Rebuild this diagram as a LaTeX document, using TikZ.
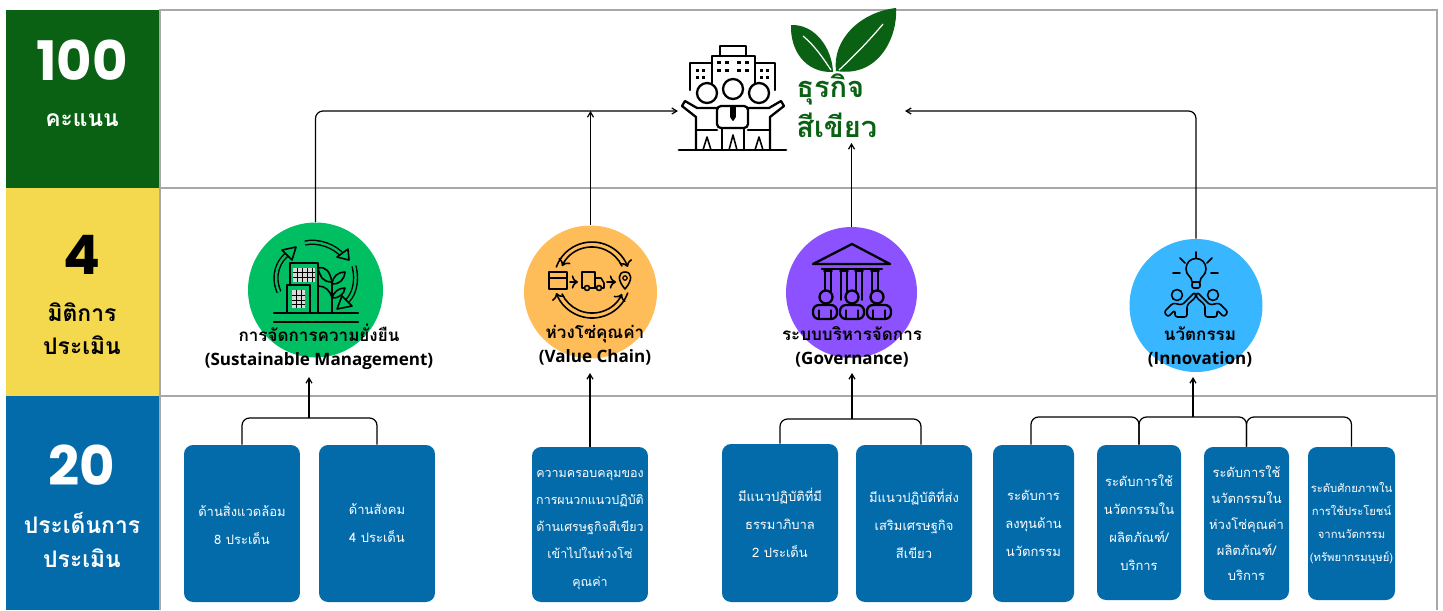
\documentclass[tikz,border=0pt]{standalone}
\usepackage{fontspec}
\usetikzlibrary{calc,arrows.meta}
\setmainfont{Open Sans}
\newfontfamily\thaifont[Script=Thai]{Loma}
\newfontfamily\numfont{Poppins}
\definecolor{darkgreen}{HTML}{0A6113}
\definecolor{tieryellow}{HTML}{F4D94F}
\definecolor{deepblue}{HTML}{046BAA}
\definecolor{gridgray}{HTML}{A8A8A8}
\definecolor{pillargreen}{HTML}{00BF63}
\definecolor{pillarorange}{HTML}{FFBD59}
\definecolor{pillarpurple}{HTML}{8C52FF}
\definecolor{pillarblue}{HTML}{38B6FF}
\tikzset{
	tier/.style={rectangle, inner sep=0pt, minimum width=30.6mm},
	pillar/.style={circle, inner sep=0pt, minimum size=26.6mm},
	pillarlabel/.style={align=center, inner sep=0pt, font=\bfseries\fontsize{9.7}{13.6}\selectfont},
	topic/.style={rectangle, rounded corners=1.8mm, fill=deepblue, text=white, align=center, inner sep=0pt,
		minimum width=23.2mm, minimum height=31.4mm, font=\thaifont\fontsize{7.4}{16}\selectfont},
	bignum/.style={inner sep=0pt, font=\numfont\bfseries\fontsize{31}{31}\selectfont},
	tierlabel/.style={align=center, inner sep=0pt, font=\thaifont\bfseries\fontsize{13}{19}\selectfont},
	link/.style={line width=0.7pt, rounded corners=1.5mm},
	linkto/.style={link, -{Straight Barb[length=1mm, width=1.2mm]}},
	icon/.style={line width=1.3pt, line join=round, line cap=round},
	thinicon/.style={icon, line width=0.9pt}
}

\begin{document}
\begin{tikzpicture}[x=0.02cm, y=-0.02cm]
	\useasboundingbox (0, 0) rectangle (1443, 610);
	
	%%%%% GRID %%%%%
	\draw[gridgray, line width=0.7pt] (159, 10) -- (1437, 10) -- (1437, 610);
	\draw[gridgray, line width=0.7pt] (159, 188) -- (1437, 188);
	\draw[gridgray, line width=0.7pt] (159, 396) -- (1437, 396);
	\draw[gridgray, line width=0.7pt] (160, 10) -- (160, 610);
	
	\node[tier, fill=darkgreen, minimum height=35.6mm] (score) at (82.5, 99) {};
	\node[tier, fill=tieryellow, minimum height=41.6mm] (dimension) at (82.5, 292) {};
	\node[tier, fill=deepblue, minimum height=42.8mm] (issue) at (82.5, 503) {};
	
	\node[bignum, text=white] (scorenum) at (82, 60) {100};
	\node[tierlabel, text=white] (scoretext) at (82, 120.5) {คะแนน};
	\node[bignum, text=black] (dimnum) at (82, 255) {4};
	\node[tierlabel, text=black] (dimtext) at (82, 328.5) {มิติการ\\ประเมิน};
	\node[bignum, text=white] (issuenum) at (82, 465) {20};
	\node[tierlabel, text=white] (issuetext) at (82, 540) {ประเด็นการ\\ประเมิน};
	
	%%%%% PILLARS %%%%%
	\node[pillar, fill=pillargreen, minimum size=27mm] (sustain) at (315.5, 290) {};
	\node[pillar, fill=pillarorange] (chain) at (590.5, 292) {};
	\node[pillar, fill=pillarpurple, minimum size=26.2mm] (govern) at (851.5, 292.5) {};
	\node[pillar, fill=pillarblue] (innov) at (1196, 305.5) {};
	
	%%%%% BUSINESS ICON %%%%%
	\draw[icon, line width=1.6pt] (679, 150) -- (786, 150);
	\draw[icon] (720, 56) -- (720, 46) -- (746, 46) -- (746, 56);
	\draw[icon] (712, 83) -- (712, 56) -- (755, 56) -- (755, 83);
	\draw[icon] (712, 63) -- (690, 63) -- (690, 90);
	\draw[icon] (755, 63) -- (775, 63) -- (775, 90);
	\foreach \wx in {719, 727, 739, 747} {
		\fill (\wx-2, 61) rectangle (\wx+2, 64);
		\fill (\wx-2, 69) rectangle (\wx+2, 72);
	}
	\foreach \wx in {698, 704, 762, 768} {
		\fill (\wx-2, 69) rectangle (\wx+1, 72);
		\fill (\wx-2, 76) rectangle (\wx+1, 79);
	}
	\draw[icon, fill=white] (707, 93) circle (10);
	\draw[icon, fill=white] (733, 89) circle (10);
	\draw[icon, fill=white] (759, 93) circle (10);
	\draw[icon] (717, 108) -- (697, 108) -- (685, 101) -- (682, 106) -- (696, 117) -- (696, 150);
	\draw[icon] (748, 108) -- (769, 108) -- (781, 101) -- (784, 106) -- (770, 117) -- (770, 150);
	\draw[icon] (696, 130) -- (717, 130);
	\draw[icon] (770, 130) -- (748, 130);
	\draw[icon, rounded corners=0.8mm, fill=white] (717, 106) rectangle (748, 128);
	\draw[thinicon, fill=black] (731, 107) -- (735, 107) -- (735, 117) -- (733, 120) -- (731, 117) -- cycle;
	\draw[icon] (722, 128) -- (722, 150);
	\draw[icon] (744, 128) -- (744, 150);
	\draw[thinicon] (703, 150) -- (707, 137) -- (711, 150);
	\draw[thinicon] (729, 150) -- (733, 135) -- (737, 150);
	\draw[thinicon] (755, 150) -- (759, 137) -- (763, 150);
	
	%%%%% LEAVES %%%%%
	\fill[darkgreen] (833, 72) .. controls (832, 48) and (815, 24) .. (791, 25) .. controls (790, 50) and (805, 73) .. (833, 72);
	\fill[darkgreen] (836, 71) .. controls (832, 40) and (860, 12) .. (896, 8) .. controls (898, 35) and (880, 78) .. (836, 71);
	\draw[white, line width=0.7pt] (803, 36) .. controls (815, 46) and (823, 58) .. (831, 70);
	\draw[white, line width=0.7pt] (883, 24) .. controls (868, 42) and (852, 58) .. (839, 70);
	
	\node[anchor=west, align=left, inner sep=0pt, text=darkgreen, font=\thaifont\bfseries\fontsize{16.5}{22.7}\selectfont] (greenname) at (796, 105.5) {ธุรกิจ\\สีเขียว};
	
	%%%%% GREEN ICON %%%%%
	\draw[icon] (274, 313) -- (358, 313);
	\draw[icon] (274, 322) -- (358, 322);
	\draw[icon] (290, 285) -- (290, 263) -- (318, 263) -- (318, 313);
	\draw[icon] (287, 313) -- (287, 285) -- (310, 285) -- (310, 313);
	\draw[icon] (332, 313) -- (332, 282);
	\fill[white!85!black] (293, 268) rectangle (315, 282);
	\fill[white!85!black] (292, 290) rectangle (305, 308);
	\foreach \gx in {297, 302, 307, 312} \draw[line width=0.5pt] (\gx, 268) -- (\gx, 282);
	\foreach \gy in {272, 277} \draw[line width=0.5pt] (293, \gy) -- (315, \gy);
	\foreach \gx in {296, 301} \draw[line width=0.5pt] (\gx, 290) -- (\gx, 308);
	\foreach \gy in {295, 300, 304} \draw[line width=0.5pt] (292, \gy) -- (305, \gy);
	\draw[thinicon] (318, 268) .. controls (326, 266) and (330, 272) .. (332, 282) .. controls (322, 282) and (320, 276) .. (318, 268);
	\draw[thinicon] (345, 272) .. controls (338, 272) and (333, 276) .. (332, 284) .. controls (340, 284) and (344, 280) .. (345, 272);
	\draw[thinicon] (345, 288) .. controls (338, 288) and (334, 292) .. (332, 298) .. controls (340, 298) and (344, 294) .. (345, 288);
	\draw[thinicon] (318, 286) .. controls (325, 286) and (330, 290) .. (332, 298);
	\draw[icon, double=pillargreen, double distance=1.4pt, line width=0.8pt, line cap=butt] (305, 243) .. controls (318, 240) and (335, 246) .. (343, 256);
	\draw[thinicon, fill=pillargreen] (349, 260) -- (337, 257) -- (348, 249) -- cycle;
	\draw[icon, double=pillargreen, double distance=1.4pt, line width=0.8pt, line cap=butt] (354, 266) .. controls (358, 282) and (354, 296) .. (345, 303);
	\draw[thinicon, fill=pillargreen] (337, 309) -- (342, 296) -- (352, 306) -- cycle;
	\draw[icon, double=pillargreen, double distance=1.4pt, line width=0.8pt, line cap=butt] (279, 292) .. controls (272, 276) and (278, 260) .. (289, 253);
	\draw[thinicon, fill=pillargreen] (296, 247) -- (292, 260) -- (282, 250) -- cycle;
	
	%%%%% CHAIN ICON %%%%%
	\draw[thinicon, ->] (592+38*cos 200, 280+38*sin 200) arc (200:340:38);
	\draw[thinicon, <-] (592+33*cos 205, 280+33*sin 205) arc (205:335:33);
	\draw[thinicon, ->] (592+38*cos 20, 280+38*sin 20) arc (20:160:38);
	\draw[thinicon, <-] (592+33*cos 25, 280+33*sin 25) arc (25:155:33);
	\draw[thinicon] (549, 272) rectangle (567, 289);
	\draw[thinicon, line width=0.6pt] (549, 278) -- (567, 278);
	\draw[thinicon, ->] (570, 282) -- (578, 282);
	\draw[thinicon] (582, 272) rectangle (595, 288);
	\draw[thinicon] (595, 278) -- (601, 278) -- (604, 283) -- (604, 288) -- (595, 288);
	\draw[thinicon, fill=pillarorange] (587, 288) circle (2.5);
	\draw[thinicon, fill=pillarorange] (599, 288) circle (2.5);
	\draw[thinicon, ->] (607, 282) -- (616, 282);
	\draw[thinicon] (625, 289) .. controls (617, 280) and (618, 272) .. (625, 272) .. controls (632, 272) and (633, 280) .. (625, 289);
	\draw[thinicon, line width=0.7pt] (625, 278) circle (2.2);
	
	%%%%% GOVERNANCE ICON %%%%%
	\draw[icon] (813, 264) -- (852, 244) -- (890, 264) -- cycle;
	\draw[icon] (822, 269) -- (882, 269);
	\foreach \cx in {828, 844, 859, 875} {
		\draw[thinicon] (\cx-3, 272) -- (\cx-3, 300);
		\draw[thinicon] (\cx+3, 272) -- (\cx+3, 300);
		\draw[thinicon] (\cx-4, 271) -- (\cx+4, 271);
	}
	\foreach \bx/\hx in {825/826, 852/852, 879/877} {
		\draw[icon, fill=pillarpurple] (\hx, 297) circle (6.5);
		\draw[icon, rounded corners=1.2mm, fill=pillarpurple] (\bx-12, 319) -- (\bx-12, 305) -- (\bx+12, 305) -- (\bx+12, 319) -- cycle;
		\draw[thinicon, line width=0.7pt] (\bx-6, 319) -- (\bx-6, 310);
		\draw[thinicon, line width=0.7pt] (\bx+6, 319) -- (\bx+6, 310);
	}
	
	%%%%% INNOVATION ICON %%%%%
	\draw[thinicon] (1192, 282) .. controls (1192, 276) and (1186, 276) .. (1186, 269) .. controls (1186, 255) and (1206, 255) .. (1206, 269) .. controls (1206, 276) and (1200, 276) .. (1200, 282) -- cycle;
	\draw[thinicon, rounded corners=0.4mm] (1192, 282) rectangle (1200, 288);
	\draw[thinicon] (1196, 252) -- (1196, 258);
	\draw[thinicon] (1180, 258) -- (1185, 263);
	\draw[thinicon] (1212, 258) -- (1207, 263);
	\draw[thinicon] (1173, 273) -- (1180, 273);
	\draw[thinicon] (1211, 273) -- (1218, 273);
	\draw[thinicon] (1177, 295) circle (5.5);
	\draw[thinicon] (1213, 295) circle (5.5);
	\draw[thinicon, rounded corners=0.5mm] (1195, 292) -- (1182, 305) -- (1173, 303) -- (1164, 312) -- (1168, 317) -- (1175, 310) -- (1175, 317) -- (1187, 317) -- (1187, 305) -- (1196, 297) -- cycle;
	\draw[thinicon, rounded corners=0.5mm] (1197, 292) -- (1210, 305) -- (1219, 303) -- (1228, 312) -- (1224, 317) -- (1217, 310) -- (1217, 317) -- (1205, 317) -- (1205, 305) -- (1196, 297) -- cycle;
	
	%%%%% PILLAR LABELS %%%%%
	\node[pillarlabel] (sustainlabel) at (319, 347) {{\thaifont การจัดการความยั่งยืน}\\(Sustainable Management)};
	\node[pillarlabel] (chainlabel) at (595, 345) {{\thaifont ห่วงโซ่คุณค่า}\\(Value Chain)};
	\node[pillarlabel] (governlabel) at (852, 347) {{\thaifont ระบบบริหารจัดการ}\\(Governance)};
	\node[pillarlabel] (innovlabel) at (1200, 347) {{\thaifont นวัตกรรม}\\(Innovation)};
	
	%%%%% TOPIC BOXES %%%%%
	\node[topic] (environ) at (242, 523.5) {ด้านสิ่งแวดล้อม\\8 ประเด็น};
	\node[topic] (social) at (377, 523.5) {ด้านสังคม\\4 ประเด็น};
	\node[topic, minimum height=31mm, font=\thaifont\fontsize{7.1}{15.5}\selectfont] (greenflow) at (590, 524.5) {\rule{0pt}{10pt}ความครอบคลุมของ\\การผนวกแนวปฏิบัติ\\ด้านเศรษฐกิจสีเขียว\\เข้าไปในห่วงโซ่\\คุณค่า};
	\node[topic, minimum height=31.6mm] (goodgov) at (780, 523) {มีแนวปฏิบัติที่มี\\ธรรมาภิบาล\\2 ประเด็น};
	\node[topic] (promote) at (914, 523.5) {มีแนวปฏิบัติที่ส่ง\\เสริมเศรษฐกิจ\\สีเขียว};
	\node[topic, minimum width=16.2mm] (invest) at (1033.5, 523.5) {ระดับการ\\ลงทุนด้าน\\นวัตกรรม};
	\node[topic, minimum width=16.8mm, minimum height=31mm] (useprod) at (1139, 522.5) {ระดับการใช้\\นวัตกรรมใน\\ผลิตภัณฑ์/\\บริการ};
	\node[topic, minimum width=17mm, minimum height=30.6mm, font=\thaifont\fontsize{7.4}{14.7}\selectfont] (usechain) at (1246.5, 523.5) {ระดับการใช้\\นวัตกรรมใน\\ห่วงโซ่คุณค่า\\ผลิตภัณฑ์/\\บริการ};
	\node[topic, minimum width=17.4mm, minimum height=30.6mm, font=\thaifont\fontsize{6.4}{13.2}\selectfont] (potential) at (1351.5, 523.5) {ระดับศักยภาพใน\\การใช้ประโยชน์\\จากนวัตกรรม\\(ทรัพยากรมนุษย์)};
	
	%%%%% CONNECTORS %%%%%
	\coordinate (bizleft) at (678, 111);
	\coordinate (bizright) at (905, 111);
	\coordinate (greentip) at (851.5, 143);
	\draw[linkto] (sustain.north) |- (bizleft);
	\draw[linkto] (chain.north) -- (chain.north |- bizleft);
	\draw[linkto] (govern.north) -- (greentip);
	\draw[linkto] (innov.north) |- (bizright);
	
	\coordinate (sustainjoin) at (309, 418);
	\coordinate (sustaintip) at (309, 377);
	\draw[link] (environ.north) |- (sustainjoin) -| (social.north);
	\draw[linkto] (sustainjoin) -- (sustaintip);
	
	\coordinate (chaintip) at (590, 373);
	\draw[linkto] (greenflow.north) -- (chaintip);
	
	\coordinate (governjoin) at (852, 419);
	\coordinate (governtip) at (852, 373);
	\draw[link] (goodgov.north) |- (governjoin) -| ($(promote.north)+(7, 0)$);
	\draw[linkto] (governjoin) -- (governtip);
	
	\coordinate (innovjoin) at (1193, 417);
	\coordinate (innovtip) at (1193, 377);
	\coordinate (investjoin) at (1085, 417);
	\coordinate (potentialjoin) at (1300, 417);
	\draw[link] ($(invest.north)+(-2.5, 0)$) |- (investjoin) -| (useprod.north);
	\draw[link] (useprod.north) |- (innovjoin) -| (usechain.north);
	\draw[link] (usechain.north) |- (potentialjoin) -| (potential.north);
	\draw[linkto] (innovjoin) -- (innovtip);
\end{tikzpicture}
\end{document}
